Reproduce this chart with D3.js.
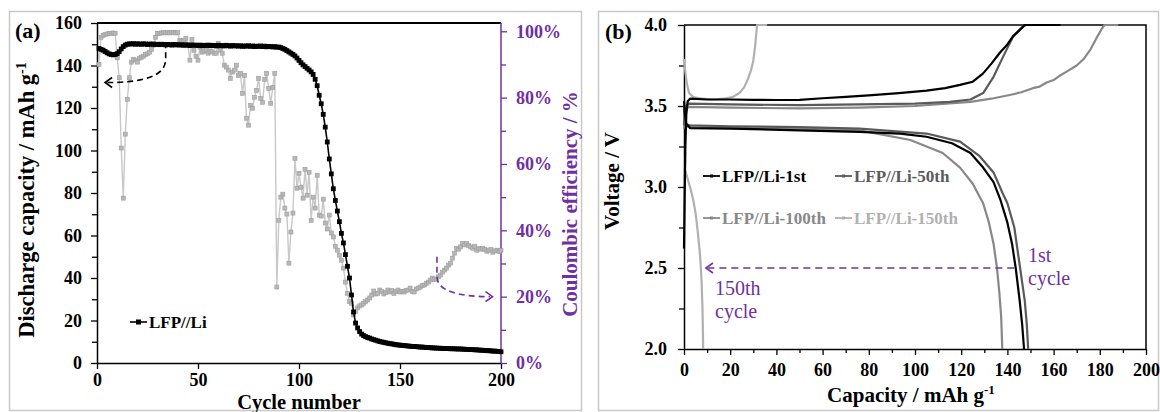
<!DOCTYPE html>
<html><head><meta charset="utf-8">
<script src="https://cdn.jsdelivr.net/npm/d3@7"></script>
<style>
body{margin:0;background:#fff}
svg{display:block}
text{font-family:"Liberation Serif","Times New Roman",serif}
</style>
</head><body>
<svg id="chart" width="1160" height="412"></svg>
<script>
// ---------- Panel (a) data ----------
const cycles = d3.range(1, 201);
const capacity = [
 148.0,147.6,147.2,146.6,146.0,145.5,145.2,145.0,145.2,145.6,
 146.5,147.8,148.9,149.6,150.0,150.2,150.1,150.3,150.0,150.2,
 150.1,150.0,150.2,150.1,149.9,150.1,150.0,150.1,149.9,150.0,
 149.8,150.0,149.9,149.7,149.9,149.8,149.6,149.9,149.7,149.8,
 149.6,149.8,149.5,149.7,149.6,149.4,149.7,149.5,149.6,149.4,
 149.6,149.3,149.5,149.4,149.6,149.3,149.5,149.4,149.2,149.5,
 149.3,149.4,149.2,149.5,149.3,149.1,149.4,149.2,149.3,149.1,
 149.3,149.0,149.2,149.1,149.3,149.0,149.2,148.9,149.1,149.0,
 149.2,148.9,149.1,148.8,149.0,148.9,148.7,148.9,148.6,148.7,
 148.4,148.0,147.6,147.0,146.4,145.8,145.2,144.5,143.5,142.4,
 141.3,140.3,139.5,138.7,137.9,137.0,135.8,133.5,130.5,126.0,
 122.0,117.0,111.0,104.0,96.0,89.0,82.0,76.5,71.5,66.5,
 61.0,56.5,51.0,45.5,40.0,32.0,24.0,18.8,16.5,14.8,
 13.6,12.9,12.4,12.0,11.7,11.3,11.0,10.7,10.4,10.1,
 9.9,9.7,9.5,9.3,9.1,9.0,8.8,8.6,8.5,8.4,
 8.3,8.2,8.1,8.0,7.9,7.8,7.8,7.7,7.6,7.5,
 7.5,7.4,7.3,7.3,7.2,7.1,7.1,7.0,7.0,6.9,
 6.9,6.8,6.8,6.8,6.7,6.7,6.7,6.6,6.6,6.6,
 6.5,6.5,6.4,6.4,6.3,6.3,6.2,6.2,6.1,6.0,
 6.0,5.9,5.8,5.8,5.7,5.6,5.6,5.5,5.4,5.3
];
const coulombic = [ // percent
 90.0,98.2,98.8,99.1,99.2,99.4,99.4,99.5,99.4,92.0,
 86.0,64.8,49.7,69.0,79.5,86.0,90.7,91.5,91.3,90.7,
 91.9,92.2,92.5,93.0,93.2,93.7,94.5,95.8,98.2,99.4,
 99.4,99.5,99.6,99.5,99.6,99.5,99.6,99.6,99.5,99.6,
 97.3,97.0,97.2,97.9,96.0,91.3,97.6,94.3,92.5,91.3,
 95.2,93.7,94.0,94.3,93.4,94.0,93.8,93.4,93.4,96.4,
 94.3,93.4,89.8,89.2,88.3,85.8,87.7,88.3,89.8,86.7,
 87.3,81.3,86.7,73.8,71.7,77.7,76.8,80.1,82.2,85.8,
 79.8,78.6,85.5,87.3,82.8,78.3,83.1,87.3,22.9,43.0,
 50.0,50.9,46.7,44.9,30.1,39.5,45.2,61.7,52.7,57.2,
 53.0,49.7,58.4,50.6,57.5,43.0,50.0,46.7,56.6,44.6,
 44.3,49.4,42.2,40.4,44.6,39.2,38.0,35.2,34.0,32.5,
 31.0,28.6,24.4,21.0,18.5,18.0,14.5,15.5,16.6,17.2,
 17.5,18.0,18.5,19.0,19.6,20.5,21.7,20.8,21.0,22.0,
 21.5,20.8,21.2,22.0,21.4,21.8,21.0,21.5,22.0,21.4,
 21.6,21.4,21.9,22.0,22.6,21.6,21.4,22.3,22.6,22.9,
 23.3,23.5,24.0,24.4,25.0,25.6,25.2,25.3,26.0,26.5,
 27.4,28.0,28.6,29.5,30.1,31.6,33.1,34.6,34.3,35.0,
 36.1,35.6,36.1,35.4,35.0,34.6,35.2,34.0,34.5,34.3,
 34.6,34.2,33.7,34.0,34.2,33.4,33.8,34.0,33.6,34.0
];
const capTicksA = [0,20,40,60,80,100,120,140,160];
const capMinorA = [10,30,50,70,90,110,130,150];
const cycleTicksA = [0,50,100,150,200];
const ceTicksA = [0,0.2,0.4,0.6,0.8,1.0];
const ceMinorA = [0.1,0.3,0.5,0.7,0.9];

// ---------- Panel (b) data: [capacity, voltage] ----------
const charge1st = [[0,2.62],[0.3,2.95],[0.6,3.25],[1.0,3.45],[1.6,3.53],[2.6,3.545],[10,3.54],[20,3.54],[30,3.538],[40,3.537],[50,3.538],[60,3.548],[70,3.556],[80,3.566],[93,3.58],[105,3.595],[113,3.61],[119.5,3.63],[125,3.65],[129.4,3.70],[133,3.76],[136.8,3.83],[140,3.88],[142.4,3.93],[145,3.965],[146.8,3.99],[147.5,4.0],[163,4.0]];
const discharge1st = [[0,3.53],[0.4,3.45],[1.0,3.39],[2.6,3.364],[20,3.36],[50,3.35],[76,3.34],[93.5,3.33],[105,3.31],[116,3.27],[124,3.21],[129.5,3.12],[134,3.03],[137,2.92],[140,2.78],[142,2.65],[143.6,2.5],[145.3,2.3],[146.4,2.15],[147.2,2.0]];
const charge50th = [[0,3.38],[0.4,3.46],[1.0,3.50],[2,3.515],[20,3.51],[50,3.505],[76,3.51],[100,3.515],[115,3.525],[124,3.54],[129.5,3.58],[134,3.68],[138,3.80],[142.5,3.93],[146.8,3.99],[148,4.0],[152,4.0]];
const discharge50th = [[0,3.50],[0.4,3.42],[1.0,3.385],[2.6,3.38],[20,3.375],[50,3.37],[76,3.36],[105,3.33],[119.5,3.28],[128,3.19],[134,3.09],[138,2.96],[140,2.9],[143,2.75],[145.5,2.5],[147.5,2.3],[148.4,2.15],[149,2.0]];
const charge100th = [[0,3.36],[0.4,3.44],[1.0,3.48],[2,3.495],[20,3.49],[50,3.485],[76,3.49],[100,3.50],[124,3.525],[133,3.545],[141,3.568],[146,3.585],[151,3.61],[154,3.62],[157,3.645],[160,3.66],[163,3.69],[166,3.715],[170,3.75],[173,3.79],[176,3.85],[179,3.93],[181,3.98],[182,4.0],[188,4.0]];
const discharge100th = [[0,3.48],[0.4,3.41],[1.0,3.375],[2.6,3.37],[20,3.365],[50,3.36],[76,3.35],[98,3.29],[112,3.21],[119.5,3.12],[125,3.02],[129.5,2.9],[132,2.78],[134,2.65],[135.5,2.5],[136.5,2.35],[137.3,2.2],[137.8,2.0]];
const charge150th = [[0,3.79],[0.5,3.72],[1.2,3.64],[2.2,3.58],[4,3.555],[8,3.545],[12.6,3.54],[17,3.545],[21,3.555],[24,3.58],[26,3.615],[27.5,3.66],[29,3.72],[30,3.78],[30.8,3.87],[31.3,3.95],[31.6,4.0],[36,4.0]];
const discharge150th = [[0,3.12],[1,3.08],[2,3.03],[3,2.98],[4,2.92],[5,2.84],[6,2.72],[7,2.57],[7.6,2.42],[8,2.25],[8.2,2.1],[8.3,2.0]];
const voltTicksB = [2.0,2.5,3.0,3.5,4.0];
const voltMinorB = [2.25,2.75,3.25,3.75];
const capTicksB = [0,20,40,60,80,100,120,140,160,180,200];
const capMinorB = [10,30,50,70,90,110,130,150,170,190];
const legendB = [
  {label:"LFP//Li-1st", color:"#000000", col:0, row:0},
  {label:"LFP//Li-50th", color:"#5a5a5a", col:1, row:0},
  {label:"LFP//Li-100th", color:"#888888", col:0, row:1},
  {label:"LFP//Li-150th", color:"#b0b0b0", col:1, row:1}
];

const PURPLE = "#7030a0";
const FONT = '"Liberation Serif","Times New Roman",serif';
const svg = d3.select("#chart");

// panel frames
svg.append("rect").attr("x",9.5).attr("y",11.5).attr("width",572).attr("height",399)
  .attr("fill","none").attr("stroke","#c8c8c8").attr("stroke-width",1.5);
svg.append("rect").attr("x",598.5).attr("y",11.5).attr("width",560).attr("height",399)
  .attr("fill","none").attr("stroke","#c8c8c8").attr("stroke-width",1.5);

function styleAxis(g, size){
  g.attr("font-family", FONT);
  g.selectAll("text").attr("font-size", size).attr("font-weight","bold");
  g.selectAll("path.domain").attr("stroke-width",1.5);
  g.selectAll(".tick line").attr("stroke-width",1.3);
}

// ---------- Panel (a) ----------
const xA = d3.scaleLinear().domain([0,200]).range([97,501]);
const yA = d3.scaleLinear().domain([0,160]).range([363,23]);
const yA2 = d3.scaleLinear().domain([0,1.025]).range([363,23]);

svg.append("line").attr("x1",xA(0)).attr("x2",xA(200)).attr("y1",yA(160)).attr("y2",yA(160))
  .attr("stroke","#000").attr("stroke-width",1.8);

svg.append("g").attr("transform",`translate(${xA(0)},0)`)
  .call(d3.axisLeft(yA).tickValues(capMinorA).tickSize(5).tickFormat("").tickSizeOuter(0))
  .call(g=>{g.select(".domain").remove(); g.selectAll("line").attr("stroke-width",1.3);});
svg.append("g").attr("transform",`translate(${xA(200)},0)`).attr("color",PURPLE)
  .call(d3.axisRight(yA2).tickValues(ceMinorA).tickSize(5).tickFormat("").tickSizeOuter(0))
  .call(g=>{g.select(".domain").remove(); g.selectAll("line").attr("stroke-width",1.3);});

const gLeftA = svg.append("g").attr("transform",`translate(${xA(0)},0)`)
  .call(d3.axisLeft(yA).tickValues(capTicksA).tickSize(6).tickPadding(9).tickSizeOuter(0).tickFormat(d3.format("d")));
styleAxis(gLeftA,"18px");
const gBotA = svg.append("g").attr("transform",`translate(0,${yA(0)})`)
  .call(d3.axisBottom(xA).tickValues(cycleTicksA).tickSize(6).tickPadding(4).tickSizeOuter(0).tickFormat(d3.format("d")));
styleAxis(gBotA,"18px");
const gRightA = svg.append("g").attr("transform",`translate(${xA(200)},0)`).attr("color",PURPLE)
  .call(d3.axisRight(yA2).tickValues(ceTicksA).tickSize(6).tickPadding(9).tickSizeOuter(0).tickFormat(d3.format(".0%")));
styleAxis(gRightA,"18px");
gRightA.select(".domain").attr("d",`M0,${yA2(0)}V${yA(160)}`);

// grey coulombic efficiency series
const ceData = cycles.map((c,i)=>[c, coulombic[i]/100]);
svg.append("path").datum(ceData)
  .attr("d", d3.line().x(d=>xA(d[0])).y(d=>yA2(d[1])))
  .attr("fill","none").attr("stroke","#c8c8c8").attr("stroke-width",1.4);
svg.append("g").selectAll("rect").data(ceData).join("rect")
  .attr("x",d=>xA(d[0])-2).attr("y",d=>yA2(d[1])-2).attr("width",4).attr("height",4)
  .attr("fill","#b8b8b8").attr("stroke","#9c9c9c").attr("stroke-width",0.6);

// black capacity series
const capData = cycles.map((c,i)=>[c, capacity[i]]);
svg.append("path").datum(capData)
  .attr("d", d3.line().x(d=>xA(d[0])).y(d=>yA(d[1])))
  .attr("fill","none").attr("stroke","#000").attr("stroke-width",1.6);
svg.append("g").selectAll("rect").data(capData).join("rect")
  .attr("x",d=>xA(d[0])-2.4).attr("y",d=>yA(d[1])-2.4).attr("width",4.8).attr("height",4.8)
  .attr("fill","#000");

// legend (a)
svg.append("line").attr("x1",130).attr("x2",147).attr("y1",322).attr("y2",322).attr("stroke","#000").attr("stroke-width",1.6);
svg.append("rect").attr("x",136).attr("y",319.5).attr("width",5).attr("height",5).attr("fill","#000");
svg.append("text").attr("x",149).attr("y",328).attr("font-size","17px").attr("font-weight","bold").text("LFP//Li");

// dashed arrow (a) black
svg.append("path")
  .attr("d",`M${xA(34)},${yA(151)} L${xA(34)},${yA(143)} C${xA(34)},${yA(134)} ${xA(20)},${yA(132)} ${xA(5.2)},${yA(132)}`)
  .attr("fill","none").attr("stroke","#000").attr("stroke-width",1.6).attr("stroke-dasharray","6,4");
svg.append("path")
  .attr("d",`M${xA(4)+7},${yA(132)-5} L${xA(4)},${yA(132)} L${xA(4)+7},${yA(132)+5}`)
  .attr("fill","none").attr("stroke","#000").attr("stroke-width",1.6);

// dashed arrow (a) purple
svg.append("path")
  .attr("d",`M${xA(168.3)},${yA2(0.32)} L${xA(168.3)},${yA2(0.26)} C${xA(168.3)},${yA2(0.215)} ${xA(180)},${yA2(0.20)} ${xA(194.5)},${yA2(0.20)}`)
  .attr("fill","none").attr("stroke",PURPLE).attr("stroke-width",1.6).attr("stroke-dasharray","6,4");
svg.append("path")
  .attr("d",`M${xA(195.8)-7},${yA2(0.20)-5} L${xA(195.8)},${yA2(0.20)} L${xA(195.8)-7},${yA2(0.20)+5}`)
  .attr("fill","none").attr("stroke",PURPLE).attr("stroke-width",1.6);

// titles (a)
svg.append("text").attr("x",15).attr("y",38).attr("font-size","22px").attr("font-weight","bold").text("(a)");
const tA = svg.append("text").attr("transform","translate(34,200) rotate(-90)").attr("text-anchor","middle")
  .attr("font-size","22.5px").attr("font-weight","bold");
tA.append("tspan").text("Discharge capacity / mAh g");
tA.append("tspan").attr("dy",-8).attr("font-size","14px").text("-1");
svg.append("text").attr("transform","translate(577,204) rotate(-90)").attr("text-anchor","middle")
  .attr("font-size","21px").attr("font-weight","bold").attr("fill",PURPLE).text("Coulombic efficiency / %");
svg.append("text").attr("x",299).attr("y",409).attr("text-anchor","middle")
  .attr("font-size","20.5px").attr("font-weight","bold").text("Cycle number");

// ---------- Panel (b) ----------
const xB = d3.scaleLinear().domain([0,200]).range([684,1146]);
const yB = d3.scaleLinear().domain([2,4]).range([349,25]);

svg.append("path").attr("d",`M${xB(0)},${yB(4)}H${xB(200)}V${yB(2)}`)
  .attr("fill","none").attr("stroke","#000").attr("stroke-width",1.5);

svg.append("g").attr("transform",`translate(${xB(0)},0)`)
  .call(d3.axisLeft(yB).tickValues(voltMinorB).tickSize(5).tickFormat("").tickSizeOuter(0))
  .call(g=>{g.select(".domain").remove(); g.selectAll("line").attr("stroke-width",1.3);});
svg.append("g").attr("transform",`translate(0,${yB(2)})`)
  .call(d3.axisBottom(xB).tickValues(capMinorB).tickSize(4).tickFormat("").tickSizeOuter(0))
  .call(g=>{g.select(".domain").remove(); g.selectAll("line").attr("stroke-width",1.3);});

const gLeftB = svg.append("g").attr("transform",`translate(${xB(0)},0)`)
  .call(d3.axisLeft(yB).tickValues(voltTicksB).tickSize(6).tickPadding(11).tickSizeOuter(0).tickFormat(d3.format(".1f")));
styleAxis(gLeftB,"18px");
const gBotB = svg.append("g").attr("transform",`translate(0,${yB(2)})`)
  .call(d3.axisBottom(xB).tickValues(capTicksB).tickSize(6).tickPadding(8).tickSizeOuter(0).tickFormat(d3.format("d")));
styleAxis(gBotB,"18px");

const lineBv = d3.line().x(d=>xB(d[0])).y(d=>yB(d[1])).curve(d3.curveLinear);
const curves = [
  {data:charge150th, color:"#b0b0b0"},{data:discharge150th, color:"#b0b0b0"},
  {data:charge100th, color:"#888888"},{data:discharge100th, color:"#888888"},
  {data:charge50th, color:"#5a5a5a"},{data:discharge50th, color:"#5a5a5a"},
  {data:charge1st, color:"#000000"},{data:discharge1st, color:"#000000"}
];
svg.append("g").selectAll("path").data(curves).join("path")
  .attr("d",d=>lineBv(d.data)).attr("fill","none")
  .attr("stroke",d=>d.color).attr("stroke-width",2.2).attr("stroke-linejoin","round");

// legend (b)
const lgB = svg.append("g").selectAll("g").data(legendB).join("g")
  .attr("transform",d=>`translate(${d.col?835:703},${d.row?218:176})`);
lgB.append("line").attr("x1",0).attr("x2",17).attr("stroke",d=>d.color).attr("stroke-width",1.8);
lgB.append("rect").attr("x",7).attr("y",-1.5).attr("width",3).attr("height",3).attr("fill",d=>d.color);
lgB.append("text").attr("x",19).attr("y",6).attr("font-size","17px").attr("font-weight","bold")
  .attr("fill",d=>d.color).text(d=>d.label);

// purple arrow (b)
svg.append("path").attr("d",`M${xB(143)},${yB(2.5)} H${xB(10.5)}`)
  .attr("stroke",PURPLE).attr("stroke-width",1.6).attr("stroke-dasharray","7,5").attr("fill","none");
svg.append("path")
  .attr("d",`M${xB(9.5)+7},${yB(2.5)-5} L${xB(9.5)},${yB(2.5)} L${xB(9.5)+7},${yB(2.5)+5}`)
  .attr("fill","none").attr("stroke",PURPLE).attr("stroke-width",1.6);
svg.append("text").attr("x",715).attr("y",295).attr("font-size","20px").attr("fill",PURPLE).text("150th");
svg.append("text").attr("x",715).attr("y",318).attr("font-size","20px").attr("fill",PURPLE).text("cycle");
svg.append("text").attr("x",1028).attr("y",262).attr("font-size","20px").attr("fill",PURPLE).text("1st");
svg.append("text").attr("x",1028).attr("y",285).attr("font-size","20px").attr("fill",PURPLE).text("cycle");

// titles (b)
svg.append("text").attr("x",605).attr("y",39).attr("font-size","22px").attr("font-weight","bold").text("(b)");
svg.append("text").attr("transform","translate(619,181) rotate(-90)").attr("text-anchor","middle")
  .attr("font-size","21px").attr("font-weight","bold").text("Voltage / V");
const tB = svg.append("text").attr("x",911).attr("y",402).attr("text-anchor","middle")
  .attr("font-size","21px").attr("font-weight","bold");
tB.append("tspan").text("Capacity / mAh g");
tB.append("tspan").attr("dy",-8).attr("font-size","13px").text("-1");
</script>
</body></html>
